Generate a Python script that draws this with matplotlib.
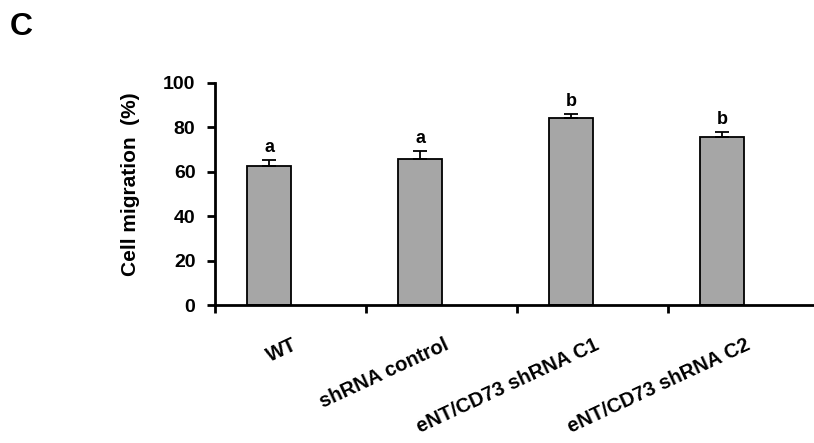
import matplotlib.pyplot as plt
import matplotlib.transforms as mtransforms
import numpy as np

# Data
groups = ['WT', 'shRNA control', 'eNT/CD73 shRNA C1', 'eNT/CD73 shRNA C2']
migration = [62.5, 65.9, 84.0, 75.8]
sem = [2.7, 3.4, 1.8, 2.0]
letters = ['a', 'a', 'b', 'b']

plt.rcParams['font.family'] = ['Liberation Sans', 'DejaVu Sans']
plt.rcParams['font.weight'] = 'bold'

fig = plt.figure(figsize=(8.14, 4.43), dpi=100)
ax = fig.add_axes([0.264, 0.3115, 0.736, 0.5015])

x = np.arange(len(groups))
ax.bar(x, migration, width=0.29, color='#a6a6a6', edgecolor='black', linewidth=1.3, zorder=2)
ax.errorbar(x, migration, yerr=[np.zeros(len(sem)), sem], fmt='none', ecolor='black',
            elinewidth=1.3, capsize=5, capthick=1.3, zorder=3)

for xi, m, s, lab in zip(x, migration, sem, letters):
    ax.annotate(lab, xy=(xi, m + s), xytext=(0, 3), textcoords='offset points',
                ha='center', va='bottom', fontsize=13, fontweight='bold')

ax.set_ylim(0, 100)
ax.set_yticks(np.arange(0, 101, 20))
ax.set_xlim(-0.36, 3.61)

# category boundaries carry the tick marks, labels sit under the bars
ax.set_xticks(x - 0.36)
ax.set_xticklabels([])
ax.set_xticks(x, minor=True)
ax.set_xticklabels(groups, minor=True, rotation=25, ha='right', va='top',
                   rotation_mode='anchor', fontsize=14.5, fontweight='bold')
ax.tick_params(axis='x', which='minor', length=0, pad=0)
shift = mtransforms.ScaledTranslation(0.23, -0.3, fig.dpi_scale_trans)
for lbl in ax.get_xticklabels(minor=True):
    lbl.set_transform(lbl.get_transform() + shift)

ax.tick_params(axis='both', which='major', direction='out', length=6, width=2, labelsize=14)
ax.tick_params(axis='y', pad=8)
for lbl in ax.get_yticklabels():
    lbl.set_fontweight('bold')

ax.spines['top'].set_visible(False)
ax.spines['right'].set_visible(False)
ax.spines['left'].set_linewidth(2)
ax.spines['bottom'].set_linewidth(2)

ax.set_ylabel('Cell migration  (%)', fontsize=15, fontweight='bold')
ax.yaxis.set_label_coords(-0.125, 0.545)

fig.text(0.026, 0.94, 'C', fontsize=23, fontweight='bold', ha='center', va='center')

fig.savefig('out.png', dpi=100)
